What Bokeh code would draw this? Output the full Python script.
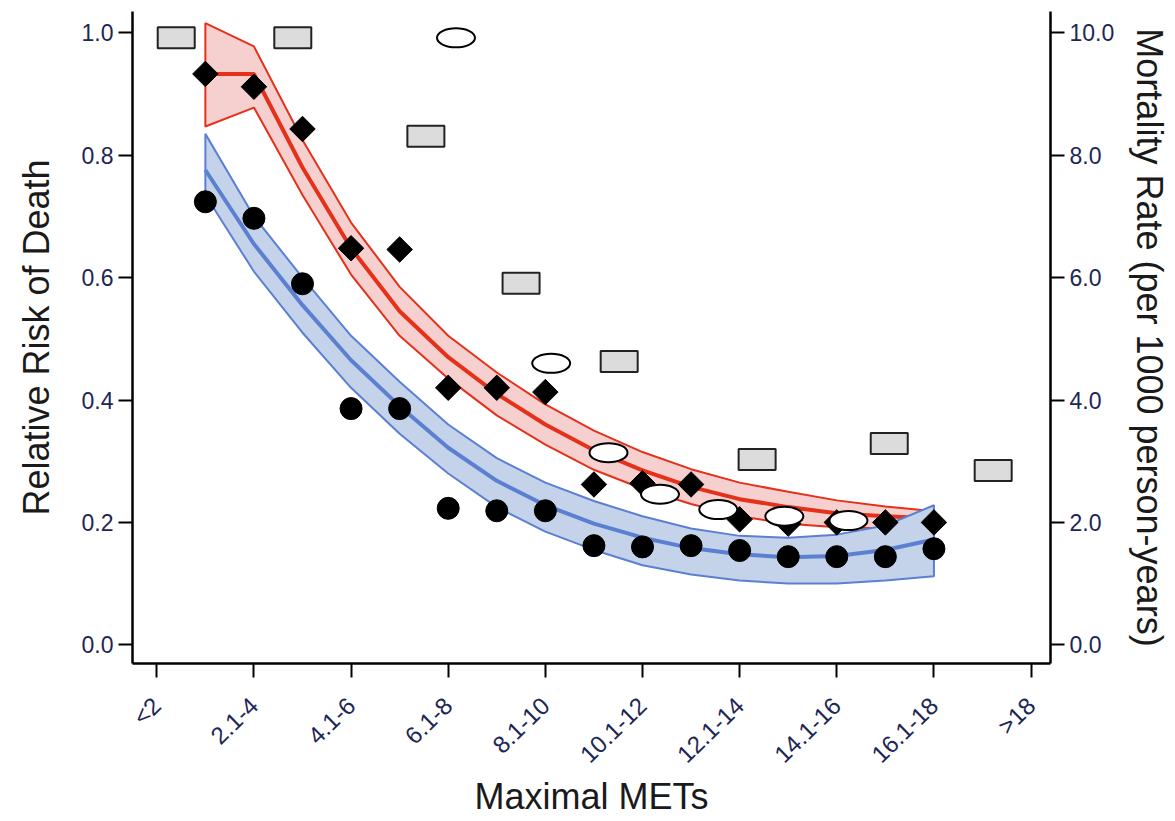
import numpy as np
from bokeh.plotting import figure
from bokeh.models import Range1d, LinearAxis, FixedTicker, PrintfTickFormatter
from bokeh.embed import file_html
from bokeh.resources import INLINE

# ---------------- data ----------------
x_labels = ["<2", "2.1-4", "4.1-6", "6.1-8", "8.1-10", "10.1-12", "12.1-14", "14.1-16", "16.1-18", ">18"]
x_ticks = [0, 1, 2, 3, 4, 5, 6, 7, 8, 9]

y_left_ticks = [0.0, 0.2, 0.4, 0.6, 0.8, 1.0]
y_right_ticks = [0, 2, 4, 6, 8, 10]

pt_x = [0.5, 1.0, 1.5, 2.0, 2.5, 3.0, 3.5, 4.0, 4.5, 5.0, 5.5, 6.0, 6.5, 7.0, 7.5, 8.0]
rr_diamond = [0.933, 0.912, 0.843, 0.648, 0.646, 0.420, 0.420, 0.413, 0.262, 0.264, 0.262, 0.205, 0.198, 0.200, 0.200, 0.200]
rr_circle = [0.724, 0.697, 0.590, 0.386, 0.386, 0.223, 0.219, 0.219, 0.162, 0.160, 0.162, 0.154, 0.144, 0.144, 0.144, 0.157]

red_x = [0.5, 1.0, 1.5, 2.0, 2.5, 3.0, 3.5, 4.0, 4.5, 5.0, 5.5, 6.0, 6.5, 7.0, 7.5, 7.9]
red_mid = [0.933, 0.933, 0.780, 0.648, 0.545, 0.470, 0.410, 0.360, 0.318, 0.285, 0.258, 0.238, 0.225, 0.215, 0.210, 0.207]
red_hi = [1.016, 0.978, 0.825, 0.690, 0.585, 0.505, 0.445, 0.393, 0.350, 0.315, 0.287, 0.265, 0.250, 0.236, 0.226, 0.220]
red_lo = [0.847, 0.878, 0.735, 0.605, 0.505, 0.435, 0.375, 0.327, 0.286, 0.255, 0.230, 0.210, 0.198, 0.192, 0.190, 0.193]

blue_x = [0.5, 1.0, 1.5, 2.0, 2.5, 3.0, 3.5, 4.0, 4.5, 5.0, 5.5, 6.0, 6.5, 7.0, 7.5, 8.0]
blue_mid = [0.776, 0.655, 0.555, 0.465, 0.390, 0.322, 0.268, 0.228, 0.198, 0.175, 0.158, 0.148, 0.143, 0.145, 0.155, 0.172]
blue_hi = [0.835, 0.700, 0.600, 0.505, 0.430, 0.360, 0.305, 0.265, 0.235, 0.210, 0.190, 0.178, 0.175, 0.180, 0.195, 0.228]
blue_lo = [0.735, 0.610, 0.510, 0.420, 0.345, 0.280, 0.225, 0.185, 0.155, 0.130, 0.115, 0.105, 0.100, 0.100, 0.105, 0.112]

rate_rect_x = [0.20, 1.40, 2.77, 3.75, 4.76, 6.18, 7.54, 8.61]
rate_rect = [9.92, 9.92, 8.31, 5.91, 4.63, 3.03, 3.29, 2.85]

rate_oval_x = [3.08, 4.06, 4.65, 5.18, 5.78, 6.46, 7.12]
rate_oval = [9.92, 4.60, 3.14, 2.46, 2.21, 2.10, 2.03]

# ---------------- styles ----------------
FONT = "Liberation Sans"
TICK_COLOR = "#1d2656"
TITLE_COLOR = "#1a1a1a"
RED = "#e5301a"
RED_FILL = "#f5d0cf"
BLUE = "#5b80d2"
BLUE_FILL = "#c4d2ea"

p = figure(width=1175, height=821, output_backend="svg", toolbar_location=None,
           x_range=Range1d(-0.25, 9.2), y_range=Range1d(-0.0306, 1.035),
           min_border_left=132, min_border_top=11, min_border_right=125, min_border_bottom=158)
p.extra_y_ranges = {"right": Range1d(-0.306, 10.35)}
p.outline_line_color = None
p.xgrid.visible = False
p.ygrid.visible = False
p.background_fill_color = "white"
p.border_fill_color = "white"

# bands
p.patch(x=list(red_x) + list(red_x[::-1]), y=list(red_hi) + list(red_lo[::-1]),
        fill_color=RED_FILL, line_color=RED, line_width=2)
p.line(red_x, red_mid, line_color=RED, line_width=4)
p.patch(x=list(blue_x) + list(blue_x[::-1]), y=list(blue_hi) + list(blue_lo[::-1]),
        fill_color=BLUE_FILL, line_color=BLUE, line_width=2)
p.line(blue_x, blue_mid, line_color=BLUE, line_width=4)

# points
p.scatter(pt_x, rr_diamond, marker="square", angle=np.pi / 4, size=18,
          fill_color="black", line_color="black")
p.scatter(pt_x, rr_circle, marker="circle", size=22, fill_color="black", line_color="black")
p.rect(rate_rect_x, rate_rect, width=37, height=21, width_units="screen", height_units="screen",
       y_range_name="right", fill_color="#dcdcdc", line_color="#222222", line_width=2)
p.ellipse(rate_oval_x, rate_oval, width=38, height=19, width_units="screen", height_units="screen",
          y_range_name="right", fill_color="white", line_color="black", line_width=2)

def style_axis(ax, tick_size="23px"):
    ax.axis_line_width = 2.5
    ax.axis_line_color = "black"
    ax.major_tick_line_width = 2
    ax.major_tick_line_color = "black"
    ax.major_tick_out = 14
    ax.major_tick_in = 0
    ax.minor_tick_line_color = None
    ax.major_label_text_font = FONT
    ax.major_label_text_font_size = tick_size
    ax.major_label_text_color = TICK_COLOR
    ax.axis_label_text_font = FONT
    ax.axis_label_text_font_size = "36px"
    ax.axis_label_text_font_style = "normal"
    ax.axis_label_text_color = TITLE_COLOR

xa = p.xaxis[0]
style_axis(xa, "24px")
xa.ticker = FixedTicker(ticks=x_ticks)
xa.major_label_overrides = {t: l for t, l in zip(x_ticks, x_labels)}
xa.major_label_orientation = 0.77
xa.major_label_standoff = 24
xa.axis_label = "Maximal METs"
xa.axis_label_standoff = -5

ya = p.yaxis[0]
style_axis(ya, "23px")
ya.ticker = FixedTicker(ticks=y_left_ticks)
ya.formatter = PrintfTickFormatter(format="%.1f")
ya.major_label_standoff = 5
ya.axis_label = "Relative Risk of Death"
ya.axis_label_standoff = 22

ra = LinearAxis(y_range_name="right", axis_label="Mortality Rate (per 1000 person-years)")
style_axis(ra, "23px")
ra.ticker = FixedTicker(ticks=y_right_ticks)
ra.formatter = PrintfTickFormatter(format="%.1f")
ra.major_label_standoff = 5
ra.axis_label_standoff = 12
p.add_layout(ra, "right")

open("out.html", "w").write(file_html(p, INLINE))
